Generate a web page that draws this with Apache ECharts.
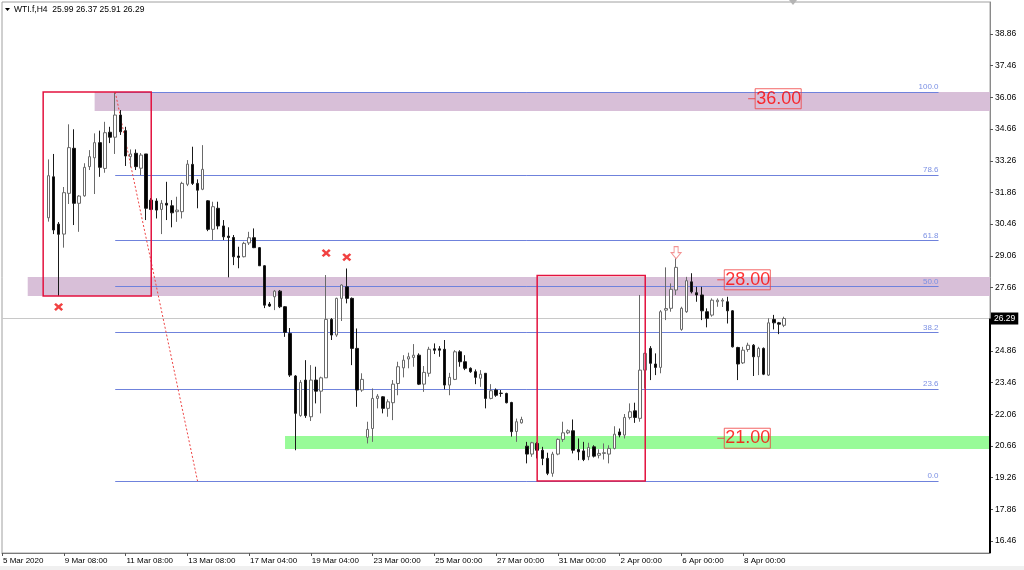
<!DOCTYPE html>
<html><head><meta charset="utf-8">
<script src="https://cdn.jsdelivr.net/npm/echarts@6/dist/echarts.min.js"></script>
<style>html,body{margin:0;padding:0;background:#fff}#c{width:1024px;height:570px}</style>
</head><body><div id="c"></div>
<script>
// ---- data ----
const symbolName = 'WTI.f,H4';
const lastQuote = [25.99, 26.37, 25.91, 26.29]; // O H L C of the last bar
const barCount = 193;      // bar slots on the visible time axis
const firstBar = 9;        // slot of the first drawn candle
const opens = [30.74,32.55,30.46,30.02,31.82,33.81,31.38,31.71,33.00,33.39,34.06,32.92,34.52,34.30,35.28,34.59,33.44,33.59,32.93,33.56,31.52,31.48,31.11,31.38,31.27,31.01,31.01,32.22,33.10,32.26,32.00,31.49,30.23,31.16,30.38,29.93,29.87,29.05,29.02,29.63,29.86,29.42,28.62,26.93,27.25,27.50,26.81,25.63,23.75,22.00,23.57,21.95,23.57,23.08,23.67,26.25,25.56,27.18,27.69,27.18,24.97,23.13,21.04,21.43,22.76,22.83,22.32,22.57,23.42,24.11,24.50,24.57,24.67,23.39,23.87,24.95,24.95,24.93,23.35,23.60,24.82,24.38,24.09,23.94,23.65,23.87,22.76,23.13,22.99,22.98,22.58,21.30,21.68,20.65,20.30,20.77,20.47,20.11,19.45,20.30,20.95,21.24,21.33,20.50,20.44,20.18,20.62,20.25,20.33,20.30,20.55,21.28,21.14,21.92,22.21,21.88,24.01,24.97,24.28,24.13,26.66,26.74,27.55,25.81,26.59,27.91,27.43,27.33,26.59,26.44,27.03,27.06,27.03,26.63,25.01,24.33,24.92,25.11,24.60,24.97,23.79,26.25,26.10,25.99];
const highs = [33.32,33.56,30.55,32.10,34.87,34.65,31.74,33.15,33.73,34.47,34.59,34.98,34.76,36.28,35.50,34.76,33.76,33.76,33.60,33.56,31.61,31.60,31.52,32.33,31.52,31.67,32.33,33.29,33.88,32.44,33.95,31.52,31.45,31.45,30.64,30.32,29.98,29.46,29.68,30.12,30.27,29.45,28.65,27.02,27.55,27.55,26.84,25.87,23.79,23.57,24.45,24.23,24.16,23.72,28.21,26.31,27.21,27.80,28.50,27.22,25.85,23.87,21.73,23.20,22.95,22.86,22.72,23.57,24.38,24.67,24.78,25.16,24.75,24.19,25.04,25.19,25.07,25.34,23.89,24.89,24.89,24.67,24.13,24.04,24.01,23.88,23.39,23.20,23.13,23.01,22.61,21.87,21.95,20.84,20.84,20.84,20.62,20.36,20.40,20.99,21.73,21.39,21.83,20.99,20.84,20.80,20.69,20.51,20.77,20.69,21.53,21.43,22.07,22.54,22.57,27.33,24.78,25.07,24.75,26.66,28.55,27.84,28.95,26.81,28.13,28.29,27.69,27.69,26.74,27.18,27.18,27.19,27.25,26.66,25.04,25.04,25.22,25.16,25.04,25.01,26.30,26.45,26.14,26.37];
const lows = [30.57,30.02,27.28,29.42,31.35,30.42,30.12,31.67,32.85,31.79,32.55,32.73,34.04,33.56,34.40,33.03,32.97,32.85,32.63,30.64,31.08,30.71,30.02,30.64,30.32,30.56,30.71,32.14,32.19,31.16,31.96,30.15,29.76,30.23,29.76,28.11,28.65,28.51,28.99,29.54,29.40,28.61,26.75,26.80,26.66,26.75,25.48,23.71,20.47,21.95,21.90,21.76,22.54,22.10,23.67,25.34,25.48,26.18,26.96,24.23,22.39,23.05,20.77,20.84,22.32,22.10,21.95,21.80,22.90,23.69,24.09,24.16,23.35,23.05,23.72,24.72,24.60,23.16,22.90,23.57,24.16,24.01,23.89,23.39,23.27,22.32,22.72,22.83,22.83,22.54,21.07,20.84,21.65,19.89,20.18,20.11,19.81,19.37,19.30,20.25,20.84,21.18,20.33,20.03,19.99,20.03,20.15,20.11,20.06,19.89,20.51,21.04,20.99,21.83,21.68,21.73,23.20,23.57,23.79,23.87,26.22,26.59,27.33,25.75,26.54,27.40,27.03,26.22,25.90,26.37,26.81,26.80,26.07,25.01,23.57,24.28,24.82,23.75,23.79,23.79,23.75,25.81,25.60,25.91];
const closes = [32.60,30.20,30.01,31.85,33.84,31.38,31.70,32.97,33.44,34.06,32.97,34.50,34.30,35.28,34.54,33.47,33.56,33.00,33.51,31.16,31.11,31.08,31.38,31.30,30.96,31.08,32.26,33.11,32.26,31.96,32.88,30.23,31.23,30.38,29.90,29.87,29.02,28.99,29.61,29.86,29.42,28.62,26.88,26.84,27.50,26.81,25.68,23.79,22.10,23.47,22.00,23.57,23.08,23.67,26.25,25.56,27.18,27.77,27.18,24.97,23.13,23.60,21.39,22.76,22.86,22.32,22.61,23.39,24.16,24.45,24.60,24.67,23.39,23.91,24.93,24.89,24.89,23.35,23.69,24.82,24.38,24.09,23.94,23.69,23.83,22.76,23.10,22.90,22.98,22.57,21.29,21.73,21.83,20.30,20.80,20.47,20.11,19.45,20.30,20.95,21.24,21.33,20.47,20.40,20.06,20.59,20.21,20.33,20.36,20.55,21.18,21.14,21.92,22.17,21.92,24.01,24.75,24.31,24.13,26.59,26.73,27.58,28.55,26.74,27.96,27.47,27.33,26.63,26.30,27.10,27.10,27.10,26.63,25.04,24.28,24.89,25.11,24.60,24.97,23.83,26.10,26.10,26.04,26.29];
const timeTickIndex = [0,12,24,36,48,60,72,84,96,108,120,132,144];
const timeTickText = ['5 Mar 2020','9 Mar 08:00','11 Mar 08:00','13 Mar 08:00','17 Mar 04:00','19 Mar 04:00','23 Mar 00:00','25 Mar 00:00','27 Mar 00:00','31 Mar 00:00','2 Apr 00:00','6 Apr 00:00','8 Apr 00:00'];
const priceTicks = [16.46,17.86,19.26,20.66,22.06,23.46,24.86,27.66,29.06,30.46,31.86,33.26,34.66,36.06,37.46,38.86];
const priceMin = 15.93, priceMax = 40.274;
// drawn objects
const fibHigh = 36.30, fibLow = 19.11, fibStart = 22, fibEnd = 182;
const fibLevels = [0, 23.6, 38.2, 50.0, 61.8, 78.6, 100.0];
const trendFrom = [22, 36.30], trendTo = [38, 19.11];
const bandStart = [18, 5, 55];
const bandTop = [36.30, 28.12, 21.10];
const bandBottom = [35.46, 27.28, 20.52];
const bandColor = ['#d8bfd8', '#d8bfd8', '#98fb98'];
const boxFrom = [8, 104], boxTo = [29, 125];
const boxTop = [36.30, 28.19], boxBottom = [27.28, 19.11];
const levelBars = [145, 139, 139];
const levelPrices = [36.00, 28.00, 21.00];
const stopBars = [11, 63, 67];
const stopPrices = [26.80, 29.18, 29.00];
const arrowBar = 131, arrowPrice = 29.20;

// ---- build ----
const categories = [];
for (let i = 0; i < barCount; i++) {
  const k = timeTickIndex.indexOf(i);
  categories.push(k >= 0 ? timeTickText[k] : String(i));
}
const candles = [];
for (let i = 0; i < barCount; i++) {
  const k = i - firstBar;
  if (k >= 0 && k < opens.length) candles.push([opens[k], closes[k], lows[k], highs[k]]);
  else candles.push('-');
}
const isTimeTick = (idx) => timeTickIndex.indexOf(idx) >= 0;
const lastIdx = barCount - 1;
const font = 'Liberation Sans';

const option = {
  animation: false,
  backgroundColor: '#ffffff',
  title: {
    text: symbolName + '  ' + lastQuote.map(v => v.toFixed(2)).join(' '),
    left: 14, top: 5, padding: 0,
    textStyle: { fontSize: 8.5, fontWeight: 'normal', fontFamily: font, color: '#000' }
  },
  grid: { left: 2, right: 34, top: 2, bottom: 17, show: true, borderColor: '#a0a0a0', borderWidth: 1, backgroundColor: '#fff' },
  xAxis: {
    type: 'category', data: categories, boundaryGap: false,
    axisLine: { show: true, lineStyle: { color: '#7a7a7a', width: 1 } },
    axisTick: { show: true, interval: isTimeTick, length: 3, lineStyle: { color: '#555' } },
    axisLabel: { interval: isTimeTick, align: 'left', margin: 4, padding: [0, 0, 0, 1], fontSize: 8, fontFamily: font, color: '#000' },
    splitLine: { show: false }
  },
  yAxis: {
    type: 'value', position: 'right', min: priceMin, max: priceMax, scale: true,
    axisLine: { show: true, lineStyle: { color: '#8a8a8a', width: 1 } },
    axisTick: { show: true, customValues: priceTicks, length: 3, lineStyle: { color: '#555' } },
    axisLabel: { customValues: priceTicks, formatter: v => v.toFixed(2), margin: 5, fontSize: 8.5, fontFamily: font, color: '#000' },
    splitLine: { show: false }
  },
  graphic: [
    { type: 'polygon', shape: { points: [[5, 8], [10, 8], [7.5, 11]] }, style: { fill: '#000' }, z: 100 },
    { type: 'polygon', shape: { points: [[789, 0], [797, 0], [793, 5]] }, style: { fill: '#b4b4b4' }, z: 100 },
    { type: 'rect', shape: { x: 0, y: 566, width: 1024, height: 4 }, style: { fill: '#f0f0f0' }, z: 0 }
  ],
  series: [
    {
      type: 'line', data: [], z: 1, silent: true,
      markArea: {
        silent: true,
        data: bandStart.map((s, k) => [
          { coord: [s, bandTop[k]], itemStyle: { color: bandColor[k], opacity: 1 } },
          { coord: [lastIdx, bandBottom[k]] }
        ])
      }
    },
    {
      type: 'line', data: [], z: 2, silent: true,
      markLine: {
        silent: true, symbol: ['none', 'none'],
        lineStyle: { color: '#6f82dc', width: 1, type: 'solid' },
        label: { show: true, position: 'insideEndTop', distance: [0, 1], color: '#7b90e4', fontSize: 8, fontFamily: font, formatter: '{b}' },
        data: fibLevels.map(l => {
          const p = fibLow + (fibHigh - fibLow) * l / 100;
          return [{ coord: [fibStart, p], name: l.toFixed(1) }, { coord: [fibEnd, p] }];
        })
      }
    },
    {
      type: 'line', data: [], z: 2, silent: true,
      markLine: {
        silent: true, symbol: ['none', 'none'],
        lineStyle: { color: '#ee4444', width: 1, type: [2, 2] },
        label: { show: false },
        data: [[{ coord: trendFrom }, { coord: trendTo }]]
      }
    },
    {
      type: 'candlestick', data: candles, z: 5, barWidth: 3,
      itemStyle: { color: '#ffffff', color0: '#000000', borderColor: '#6a6a6a', borderColor0: '#1a1a1a', borderWidth: 1 },
      markLine: {
        silent: true, symbol: ['none', 'none'],
        data: [
          { yAxis: lastQuote[3], lineStyle: { color: '#c8c8c8', width: 1, type: 'solid' },
            label: { show: true, position: 'end', distance: 1, formatter: lastQuote[3].toFixed(2), backgroundColor: '#000', color: '#fff', fontSize: 8.5, fontFamily: font, padding: [2, 3, 1, 3] } },
          [{ coord: [lastIdx, priceMin], lineStyle: { color: '#000', width: 2, type: 'solid' }, label: { show: false } },
           { coord: [lastIdx, lastQuote[3]] }]
        ]
      }
    },
    {
      type: 'line', data: [], z: 6, zlevel: 0, silent: true,
      markArea: {
        silent: true, z: 6,
        itemStyle: { color: 'rgba(0,0,0,0)', borderColor: '#e3123f', borderWidth: 1.5 },
        data: boxFrom.map((f, k) => [{ coord: [f, boxTop[k]] }, { coord: [boxTo[k], boxBottom[k]] }])
      }
    },
    {
      type: 'scatter', z: 7, silent: true,
      data: stopBars.map((b, k) => [b, stopPrices[k]]),
      symbol: 'path://M2,0L5,3L8,0L10,2L7,5L10,8L8,10L5,7L2,10L0,8L3,5L0,2Z',
      symbolSize: [9, 8],
      itemStyle: { color: '#ee1111' }
    },
    {
      type: 'scatter', z: 7, silent: true,
      data: [[arrowBar, arrowPrice]],
      symbol: 'path://M3,0L7,0L7,6L10,6L5,12L0,6L3,6Z',
      symbolSize: [10, 12],
      itemStyle: { color: '#ffffff', borderColor: '#f07878', borderWidth: 1 }
    },
    {
      type: 'scatter', z: 8, silent: true,
      data: levelBars.map((b, k) => [b, levelPrices[k]]),
      symbol: 'rect', symbolSize: [7, 1], symbolOffset: [3.5, 0],
      itemStyle: { color: '#f03030' },
      label: {
        show: true, position: 'right', distance: 0,
        formatter: p => p.value[1].toFixed(2),
        color: '#ff0000', fontSize: 18, fontFamily: font, lineHeight: 18,
        borderColor: '#f04040', borderWidth: 1, padding: [2, 0, 0, 1]
      }
    }
  ]
};
const chart = echarts.init(document.getElementById('c'), null, { renderer: 'canvas' });
chart.setOption(option);
</script></body></html>
